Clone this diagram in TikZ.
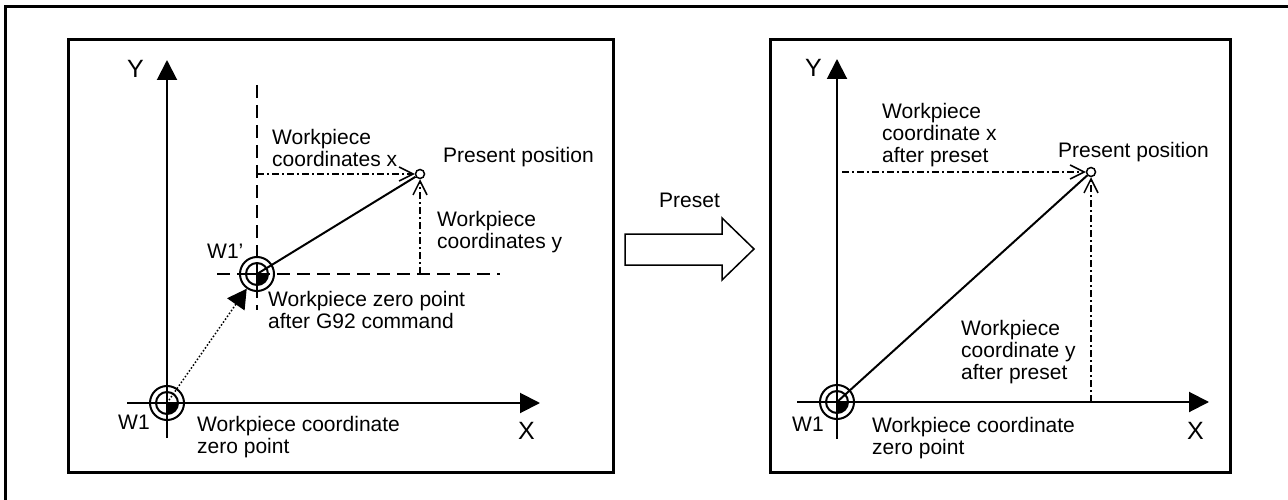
\documentclass[tikz,border=0pt]{standalone}
\usepackage{fontspec}
\setmainfont{Liberation Sans}
\usetikzlibrary{arrows.meta}

\begin{document}
\begin{tikzpicture}[x=1pt, y=-1pt,
  lbl/.style={anchor=north west, inner sep=0pt, align=left,
              font=\fontsize{21}{22}\selectfont},
  axlbl/.style={anchor=north west, inner sep=0pt, font=\fontsize{25}{27}\selectfont},
  frame/.style={line width=3pt},
  axis/.style={line width=2pt, -{Triangle[length=20pt,width=20pt]}},
  sym/.style={line width=2pt},
  ppt/.style={circle, draw, line width=1.5pt, minimum size=9pt, inner sep=0pt, fill=white},
  guide/.style={line width=2pt, dash pattern=on 13pt off 7pt},
  ddot/.style={line width=1.5pt, dash pattern=on 7pt off 3pt on 2pt off 3pt,
               -{Straight Barb[length=14pt,width=14pt,line width=1.5pt]}},
  shiftarr/.style={line width=1.5pt, dash pattern=on 1.5pt off 2pt,
                -{Triangle[length=19pt,width=21pt]}, shorten >=18pt}
]
\useasboundingbox (0,0) rectangle (1288,500);
% frames
\draw[frame] (5,500) -- (5,7) -- (1288,7);
\draw[frame] (68,40) rectangle (613,472);
\draw[frame] (770,40) rectangle (1230,472);

% left: before preset
\coordinate (w1) at (167,403);
\coordinate (w1p) at (257,274);
\draw[axis] (167,438) -- (167,60);
\draw[axis] (127,403) -- (540,403);
\draw[guide] (257,85) -- (257,310);
\draw[guide] (217,274) -- (500,274);
\draw[sym] (w1p) ++(-11,0) -- ++(22,0) (w1p) ++(0,-11) -- ++(0,22);
\node[ppt] (pp) at (420,174) {};
\draw[sym] (w1p) -- (pp);
\coordinate (hx) at (257,174);
\coordinate (vy) at (420,274);
\draw[ddot] (hx) -- (pp.west);
\draw[ddot] (vy) -- (pp.south);
\draw[shiftarr] (w1) -- (w1p);

\node[axlbl] (ylbl) at (127,60) {Y};
\node[axlbl] (xlbl) at (518,422) {X};
\node[lbl] (w1lbl) at (118,415) {W1};
\node[lbl] (zero) at (197,416) {Workpiece coordinate\\zero point};
\node[lbl] (w1plbl) at (207,244) {W1'};
\node[lbl] (g92) at (268,291) {Workpiece zero point\\after G92 command};
\node[lbl] (cx) at (272,129) {Workpiece\\coordinates x};
\node[lbl] (pos) at (443,147) {Present position};
\node[lbl] (cy) at (437,211) {Workpiece\\coordinates y};

% preset arrow
\node[lbl] (preset) at (659,193) {Preset};
\draw[line width=1.5pt] (625,234) -- (722,234) -- (722,218) -- (754,249)
  -- (722,280) -- (722,265) -- (625,265) -- cycle;

% right: after preset
\coordinate (w1r) at (837,402);
\draw[axis] (837,439) -- (837,59);
\draw[axis] (797,402) -- (1209,402);
\node[ppt] (pp2) at (1091,172) {};
\draw[sym] (w1r) -- (pp2);
\coordinate (hx2) at (842,172);
\coordinate (vy2) at (1091,402);
\draw[ddot] (hx2) -- (pp2.west);
\draw[ddot] (vy2) -- (pp2.south);

\node[axlbl] (ylbl2) at (805,59) {Y};
\node[axlbl] (xlbl2) at (1187,422) {X};
\node[lbl] (w1lbl2) at (792,417) {W1};
\node[lbl] (zero2) at (872,417) {Workpiece coordinate\\zero point};
\node[lbl] (cx2) at (882,103) {Workpiece\\coordinate x\\after preset};
\node[lbl] (pos2) at (1058,142) {Present position};
\node[lbl] (cy2) at (961,320) {Workpiece\\coordinate y\\after preset};

% zero point marks
\foreach \p in {w1, w1p, w1r} {
  \draw[sym] (\p) circle[radius=17] (\p) circle[radius=11];
  \fill (\p) -- ++(11,0) arc[start angle=0, end angle=90, radius=11] -- cycle;
}
\end{tikzpicture}
\end{document}
